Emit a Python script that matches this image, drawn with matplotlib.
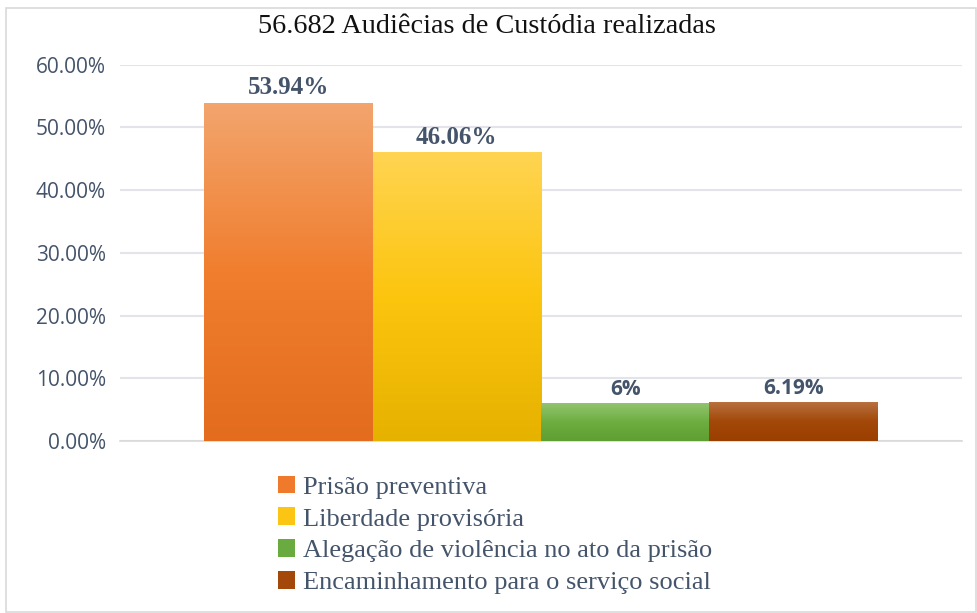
import numpy as np
import matplotlib.pyplot as plt
from matplotlib.patches import Rectangle, Patch
from matplotlib.colors import LinearSegmentedColormap

# dados do gráfico
categorias = [
    "Prisão preventiva",
    "Liberdade provisória",
    "Alegação de violência no ato da prisão",
    "Encaminhamento para o serviço social",
]
valores = [53.94, 46.06, 6.0, 6.19]
rotulos = ["53.94%", "46.06%", "6%", "6.19%"]
rotulo_serif = [True, True, False, False]
titulo = "56.682 Audiêcias de Custódia realizadas"
yticks = [0, 10, 20, 30, 40, 50, 60]

# cores (topo, meio, base) para o gradiente
gradientes = [
    ["#F3A56E", "#F07E2E", "#E36C1E"],
    ["#FFD452", "#FCC50E", "#E6B200"],
    ["#92C46F", "#6EAE40", "#5E9E32"],
    ["#B8703F", "#A24808", "#9A3F00"],
]
cores_legenda = ["#EF7A2C", "#FCC514", "#6AAB3F", "#A3470A"]

texto_cor = "#44546A"

plt.rcParams.update({"font.family": ["Open Sans", "DejaVu Sans"]})

fig = plt.figure(figsize=(9.78, 6.13), dpi=100)
ax = fig.add_axes([0.1227, 0.2806, 0.861, 0.614])

x = np.arange(len(valores))
bars = ax.bar(x, valores, width=1.0, color="none", zorder=3)

grad = np.linspace(0, 1, 256).reshape(-1, 1)
for b, cores in zip(bars, gradientes):
    cmap = LinearSegmentedColormap.from_list("g", cores[::-1])
    x0, y0 = b.get_x(), b.get_y()
    w, h = b.get_width(), b.get_height()
    im = ax.imshow(grad, cmap=cmap, aspect="auto", origin="lower",
                   extent=[x0, x0 + w, y0, y0 + h], zorder=3)
    im.set_clip_path(b)

for xi, v, lab, serif in zip(x, valores, rotulos, rotulo_serif):
    if serif:
        fam, fs = ["Liberation Serif"], 18
    else:
        fam, fs = ["Open Sans"], 15
    ax.text(xi, v + 0.5, lab, ha="center", va="bottom", fontsize=fs,
            fontweight="bold", color=texto_cor, family=fam, zorder=4)

ax.set_xlim(-1.0, 4.0)
ax.set_ylim(0, 60)
ax.set_yticks(yticks)
ax.set_yticklabels([f"{t:.2f}%" for t in yticks], fontsize=15, color=texto_cor)
ax.set_xticks([])
ax.tick_params(axis="y", length=0, pad=10)
for s in ["top", "right", "left"]:
    ax.spines[s].set_visible(False)
ax.spines["bottom"].set_color("#D9D9D9")
ax.spines["bottom"].set_linewidth(1.2)
ax.grid(axis="y", color="#E3E3EA", linewidth=1.5, zorder=0)
ax.set_axisbelow(True)

fig.text(0.498, 0.957, titulo, ha="center", va="center", fontsize=20.3,
         family=["Liberation Serif"], color="#111111")

handles = [Patch(facecolor=c, edgecolor="none") for c in cores_legenda]
leg = fig.legend(handles, categorias, loc="upper left",
                 bbox_to_anchor=(0.284, 0.224), frameon=False,
                 prop={"family": "Liberation Serif", "size": 19},
                 handlelength=0.65, handleheight=0.65, handletextpad=0.3,
                 labelspacing=0.33, borderaxespad=0, borderpad=0)
for t in leg.get_texts():
    t.set_color(texto_cor)

# moldura em volta da figura
fig.patches.append(Rectangle((0.006, 0.002), 0.992, 0.985, transform=fig.transFigure,
                             fill=False, edgecolor="#D9D9D9", linewidth=1.2))

plt.savefig("out.png", dpi=100)
